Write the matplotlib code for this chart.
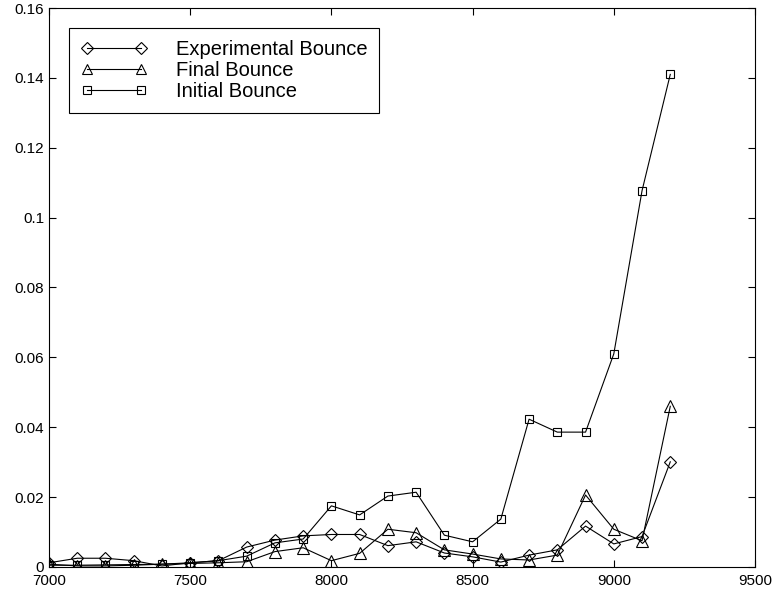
import matplotlib
matplotlib.use('Agg')
import matplotlib.pyplot as plt

plt.rcParams['font.family'] = ['Liberation Sans', 'DejaVu Sans']

# sample positions
x_vals = [7000, 7100, 7200, 7300, 7400, 7500, 7600, 7700, 7800, 7900, 8000, 8100,
          8200, 8300, 8400, 8500, 8600, 8700, 8800, 8900, 9000, 9100, 9200]

experimental = [0.0012, 0.0025, 0.0025, 0.0018, 0.0003, 0.0012, 0.0018, 0.0057,
                0.0077, 0.0089, 0.0093, 0.0093, 0.0061, 0.0072, 0.0040, 0.0029,
                0.0014, 0.0034, 0.0049, 0.0117, 0.0066, 0.0087, 0.0301]
final = [0.0008, 0.0003, 0.0003, 0.0005, 0.0008, 0.0010, 0.0012, 0.0015,
         0.0044, 0.0055, 0.0018, 0.0039, 0.0108, 0.0098, 0.0049, 0.0037,
         0.0023, 0.0020, 0.0034, 0.0206, 0.0108, 0.0075, 0.0460]
initial = [0.0005, 0.0005, 0.0006, 0.0007, 0.0008, 0.0012, 0.0018, 0.0031,
           0.0069, 0.0080, 0.0175, 0.0149, 0.0203, 0.0214, 0.0091, 0.0072,
           0.0137, 0.0423, 0.0386, 0.0386, 0.0610, 0.1077, 0.1410]

x_ticks = [7000, 7500, 8000, 8500, 9000, 9500]
y_ticks = [0, 0.02, 0.04, 0.06, 0.08, 0.1, 0.12, 0.14, 0.16]
y_tick_labels = ['0', '0.02', '0.04', '0.06', '0.08', '0.1', '0.12', '0.14', '0.16']

fig = plt.figure(figsize=(7.73, 5.94), dpi=100)
ax = fig.add_axes([0.0634, 0.0455, 0.9133, 0.941])

style = dict(color='black', linewidth=0.8, markerfacecolor='none',
             markeredgecolor='black', markeredgewidth=0.8)
ax.plot(x_vals, experimental, marker='D', markersize=6.5, label='Experimental Bounce', **style)
ax.plot(x_vals, final, marker='^', markersize=8, label='Final Bounce', **style)
ax.plot(x_vals, initial, marker='s', markersize=6, label='Initial Bounce', **style)

ax.set_xlim(7000, 9500)
ax.set_ylim(0, 0.16)
ax.set_xticks(x_ticks)
ax.set_yticks(y_ticks)
ax.set_yticklabels(y_tick_labels)
ax.tick_params(direction='in', length=5, width=0.8, top=True, right=True,
               labelsize=11, colors='black')
ax.tick_params(axis='x', pad=5)
for sp in ax.spines.values():
    sp.set_linewidth(0.8)

# legend box sits ~20 px in from the top-left corner of the axes
leg = ax.legend(loc='upper left', bbox_to_anchor=(0.0283, 0.964), borderaxespad=0,
                numpoints=2, handlelength=3.3, fontsize=14.5, fancybox=False,
                framealpha=1, edgecolor='black', borderpad=0.6, labelspacing=0.1,
                handletextpad=1.4, markerscale=0.9)
leg.get_frame().set_linewidth(0.8)

fig.savefig('out.png', dpi=100)
